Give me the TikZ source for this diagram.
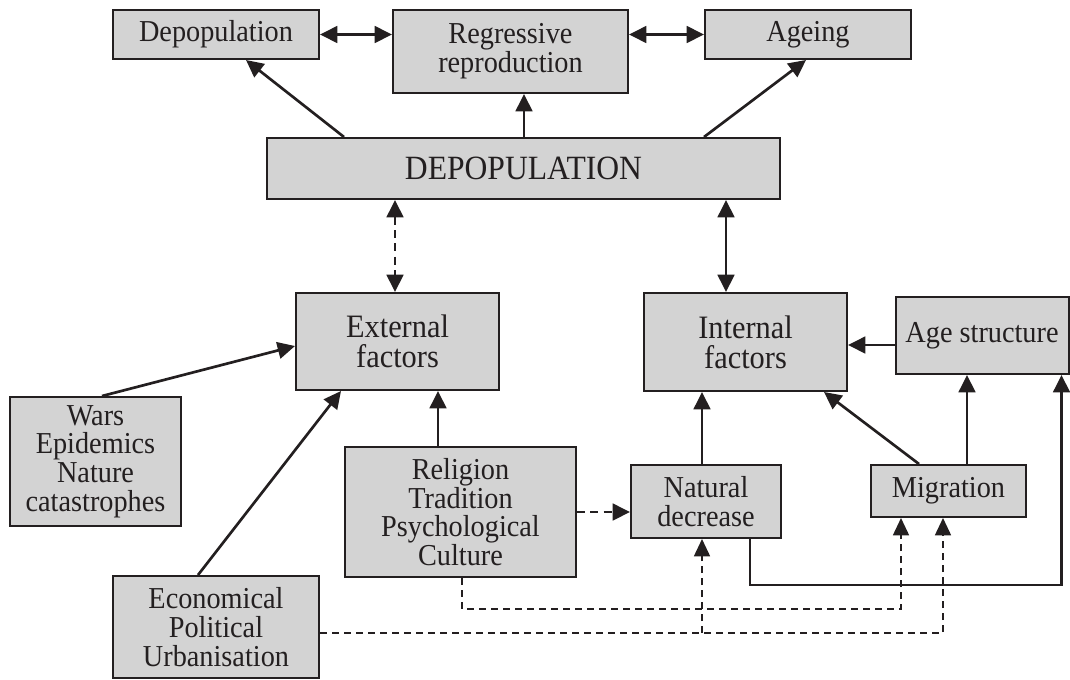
\documentclass[tikz,border=0pt]{standalone}
\usepackage{fontspec}
\setmainfont[FakeStretch=0.93]{Liberation Serif}
\usetikzlibrary{arrows.meta,calc}
\definecolor{boxfill}{RGB}{211,211,211}
\definecolor{ink}{RGB}{35,31,32}
\tikzset{
  box/.style={draw=ink, fill=boxfill, line width=1.5pt, inner sep=0pt, align=center, text=ink,
              font=\fontsize{22.8}{21.5}\selectfont},
  bigbox/.style={box, font=\fontsize{24.5}{22.5}\selectfont},
  conn/.style={draw=ink, line width=2pt},
  tip/.style={-{Triangle[length=13pt,width=12.5pt]}},
  arr/.style={conn, tip},
  darr/.style={conn, {Triangle[length=13pt,width=12.5pt]}-{Triangle[length=13pt,width=12.5pt]}},
  dsh/.style={dash pattern=on 6pt off 4pt},
  thindsh/.style={draw=ink, line width=1.3pt, dash pattern=on 5pt off 4pt},
  ttip/.style={-{Triangle[length=13pt,width=12pt]}},
}
\begin{document}
\begin{tikzpicture}[x=0.75pt, y=-0.75pt]
\useasboundingbox (0,0) rectangle (1070,679);
% nodes
\node[box, minimum width=206*0.75pt, minimum height=49*0.75pt] (depS) at (216,34.5) {Depopulation};
\node[box, minimum width=235*0.75pt, minimum height=83*0.75pt] (regr) at (510.5,51.5) {Regressive\\reproduction};
\node[box, minimum width=206*0.75pt, minimum height=49*0.75pt] (age) at (808,34.5) {Ageing};
\node[box, font=\fontsize{25.5}{25}\selectfont, minimum width=513*0.75pt, minimum height=61*0.75pt] (DEP) at (523.5,168.5) {DEPOPULATION};
\node[bigbox, minimum width=203*0.75pt, minimum height=97*0.75pt] (ext) at (397.5,341.5) {External\\factors};
\node[bigbox, minimum width=203*0.75pt, minimum height=98*0.75pt] (int) at (745.5,342) {Internal\\factors};
\node[box, minimum width=173*0.75pt, minimum height=77*0.75pt] (ages) at (982,335.5) {Age structure};
\node[box, minimum width=171*0.75pt, minimum height=129*0.75pt] (wars) at (95.5,461.5) {Wars\\Epidemics\\Nature\\catastrophes};
\node[box, minimum width=206*0.75pt, minimum height=102*0.75pt] (econ) at (216,627) {Economical\\Political\\Urbanisation};
\node[box, minimum width=231*0.75pt, minimum height=130*0.75pt] (relig) at (460.5,512) {Religion\\Tradition\\Psychological\\Culture};
\node[box, minimum width=150*0.75pt, minimum height=73*0.75pt] (nat) at (706,501.5) {Natural\\decrease};
\node[box, minimum width=155*0.75pt, minimum height=52*0.75pt] (mig) at (948.5,491) {Migration};
% helper coordinates
\path ($(DEP.north west)+(78,0)$) coordinate (dA)
      ($(DEP.north west)+(258,0)$) coordinate (dB)
      ($(DEP.north west)+(438,0)$) coordinate (dC)
      ($(DEP.south west)+(129,0)$) coordinate (dD)
      ($(DEP.south west)+(460,0)$) coordinate (dE)
      ($(depS.south west)+(134,0)$) coordinate (depSb)
      ($(age.south west)+(102,0)$) coordinate (ageb)
      ($(wars.north west)+(93,0)$) coordinate (wT)
      ($(ext.north west)+(0,54)$) coordinate (extL)
      ($(econ.north west)+(86,0)$) coordinate (eT)
      ($(ext.south west)+(46,0)$) coordinate (extB)
      ($(relig.north west)+(94,0)$) coordinate (rT)
      ($(relig.north east)+(0,66)$) coordinate (rR)
      ($(relig.south west)+(118,0)$) coordinate (rB)
      ($(nat.north west)+(72,0)$) coordinate (nT)
      ($(nat.south west)+(72,0)$) coordinate (nBd)
      ($(nat.south west)+(120,0)$) coordinate (nB)
      ($(mig.north west)+(49,0)$) coordinate (mA)
      ($(mig.north west)+(97,0)$) coordinate (mB)
      ($(mig.south west)+(31,0)$) coordinate (mL)
      ($(mig.south west)+(73,0)$) coordinate (mR)
      ($(int.south west)+(181,0)$) coordinate (intB)
      ($(ages.west)+(0,9.5)$) coordinate (aL)
      ($(ages.south west)+(167,0)$) coordinate (aB)
      ($(econ.east)+(0,6)$) coordinate (eR);
\coordinate (soly) at (0,585);
\coordinate (dy1) at (0,609);
% top row
\draw[darr] (depS.east) -- (depS.east -| regr.west);
\draw[darr] (age.west -| regr.east) -- (age.west);
\draw[arr] (dA) -- (depSb);
\draw[arr] (dB) -- (dB |- regr.south);
\draw[arr] (dC) -- (ageb);
% DEPOPULATION to factors
\draw[darr, dsh] (dD) -- (dD |- ext.north);
\draw[darr] (dE) -- (dE |- int.north);
% external factors
\draw[arr] (wT) -- (extL);
\draw[arr] (eT) -- (extB);
\draw[arr] (rT) -- (rT |- ext.south);
\draw[arr, dsh] (rR) -- (rR -| nat.west);
% internal factors
\draw[arr] (nT) -- (nT |- int.south);
\draw[arr] (mA) -- (intB);
\draw[arr] (mB) -- (mB |- ages.south);
\draw[arr] (aL) -- (aL -| int.east);
\draw[arr] (nB) -- (nB |- soly) -| (aB);
% dashed routes
\draw[thindsh, ttip] (rB) -- (rB |- dy1) -| (mL);
\draw[thindsh, ttip] (eR) -| (mR);
\draw[thindsh, ttip] (nBd |- eR) -- (nBd);
\end{tikzpicture}
\end{document}
